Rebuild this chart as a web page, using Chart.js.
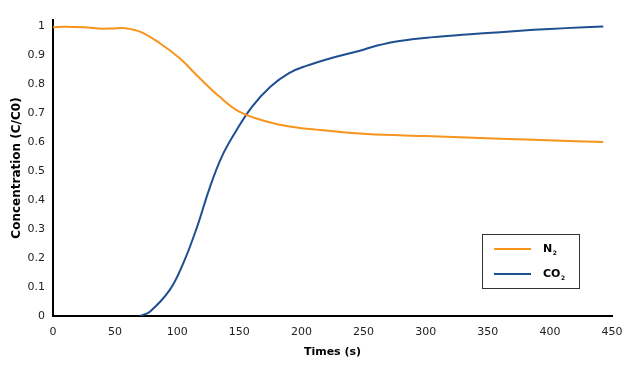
<!DOCTYPE html>
<html>
<head>
<meta charset="utf-8">
<script src="https://cdn.jsdelivr.net/npm/chart.js@4"></script>
<style>
    html, body { margin: 0; padding: 0; background: #fff; }
    #wrap { width: 636px; height: 383px; }
</style>
</head>
<body>
<div id="wrap"><canvas id="lineChart" width="636" height="383"></canvas></div>
<script>
// datos
var n2Times  = [0, 10, 25, 40, 48, 58, 70, 86, 102, 118, 134, 150, 172, 193, 215, 253, 300, 333, 387, 443];
var n2Values = [0.995, 0.997, 0.995, 0.99, 0.991, 0.992, 0.98, 0.94, 0.888, 0.82, 0.756, 0.704, 0.67, 0.651, 0.641, 0.627, 0.62, 0.615, 0.607, 0.6];

var co2Times  = [70, 78, 94, 105, 116, 126, 136, 147, 160, 175, 190, 204, 225, 247, 261, 279, 306, 333, 360, 387, 413, 443];
var co2Values = [0, 0.015, 0.09, 0.183, 0.307, 0.44, 0.55, 0.635, 0.72, 0.79, 0.837, 0.862, 0.89, 0.914, 0.932, 0.948, 0.961, 0.97, 0.978, 0.986, 0.992, 0.998];

var yTicks = [0, 0.1, 0.2, 0.3, 0.4, 0.5, 0.6, 0.7, 0.8, 0.9, 1];

var seriesLabels = ["N\u2082", "CO\u2082"];
var seriesColors = ["#F7941D", "#1E4F91"];

var xTitle = "Times (s)";
var yTitle = "Concentration (C/C0)";

function puntos(xs, ys) {
    var out = [];
    for (var i = 0; i < xs.length; i++) { out.push({x: xs[i], y: ys[i]}); }
    return out;
}

// leyenda dentro del area de la grafica
var leyendaPlugin = {
    id: 'leyendaCaja',
    afterDraw: function(chart) {
        var ctx = chart.ctx;
        var bx = 482.5, by = 234.5, bw = 97, bh = 54;
        ctx.save();
        ctx.fillStyle = '#fff';
        ctx.fillRect(bx, by, bw, bh);
        ctx.strokeStyle = '#333';
        ctx.lineWidth = 1;
        ctx.strokeRect(bx, by, bw, bh);
        chart.data.datasets.forEach(function(ds, i) {
            var y = 249 + i * 25;
            ctx.strokeStyle = ds.borderColor;
            ctx.lineWidth = 2;
            ctx.beginPath();
            ctx.moveTo(494, y);
            ctx.lineTo(531, y);
            ctx.stroke();
            ctx.fillStyle = '#000';
            ctx.textBaseline = 'middle';
            ctx.textAlign = 'left';
            // subindice pequeño
            var base = ds.label.slice(0, -1);
            var sub = String.fromCharCode(ds.label.charCodeAt(ds.label.length - 1) - 0x2080 + 48);
            ctx.font = 'bold 11px "DejaVu Sans"';
            ctx.fillText(base, 543, y);
            var w = ctx.measureText(base).width;
            ctx.font = 'bold 6px "DejaVu Sans"';
            ctx.fillText(sub, 543 + w + 0.5, y + 4);
        });
        ctx.restore();
    }
};

var lineData = {
    datasets: [
        {
            label: seriesLabels[0],
            data: puntos(n2Times, n2Values),
            borderColor: seriesColors[0],
            backgroundColor: seriesColors[0],
            borderWidth: 2,
            pointRadius: 0,
            tension: 0.4
        }, {
            label: seriesLabels[1],
            data: puntos(co2Times, co2Values),
            borderColor: seriesColors[1],
            backgroundColor: seriesColors[1],
            borderWidth: 2,
            pointRadius: 0,
            tension: 0.4
        }
    ]
};

var lineOptions = {
    responsive: false,
    animation: false,
    layout: { padding: { top: 20, right: 24, left: 0, bottom: 0 } },
    plugins: {
        legend: { display: false },
        tooltip: { enabled: false }
    },
    scales: {
        x: {
            type: 'linear',
            min: 0,
            max: 450,
            afterFit: function(scale) { scale.height = 67; },
            grid: { display: false, drawTicks: false },
            border: { display: true, color: '#000', width: 2 },
            ticks: {
                stepSize: 50,
                padding: 10,
                color: '#222',
                font: { family: 'DejaVu Sans', size: 11 }
            },
            title: {
                display: true,
                text: xTitle,
                color: '#000',
                font: { family: 'DejaVu Sans', size: 11, weight: 'bold' },
                padding: { top: 0, bottom: 24 }
            }
        },
        y: {
            min: 0,
            max: 1.02,
            afterFit: function(scale) { scale.width = 53; },
            afterBuildTicks: function(scale) {
                scale.ticks = yTicks.map(function(v) { return {value: v}; });
            },
            grid: { display: false, drawTicks: false },
            border: { display: true, color: '#000', width: 2 },
            ticks: {
                padding: 8,
                color: '#222',
                font: { family: 'DejaVu Sans', size: 11 },
                callback: function(v) { return String(Math.round(v * 10) / 10); }
            },
            title: {
                display: true,
                text: yTitle,
                color: '#000',
                font: { family: 'DejaVu Sans', size: 12, weight: 'bold' },
                padding: { top: 10, bottom: 0 }
            }
        }
    }
};

var ctx = document.getElementById("lineChart").getContext("2d");
new Chart(ctx, {type: 'line', data: lineData, options: lineOptions, plugins: [leyendaPlugin]});
</script>
</body>
</html>
